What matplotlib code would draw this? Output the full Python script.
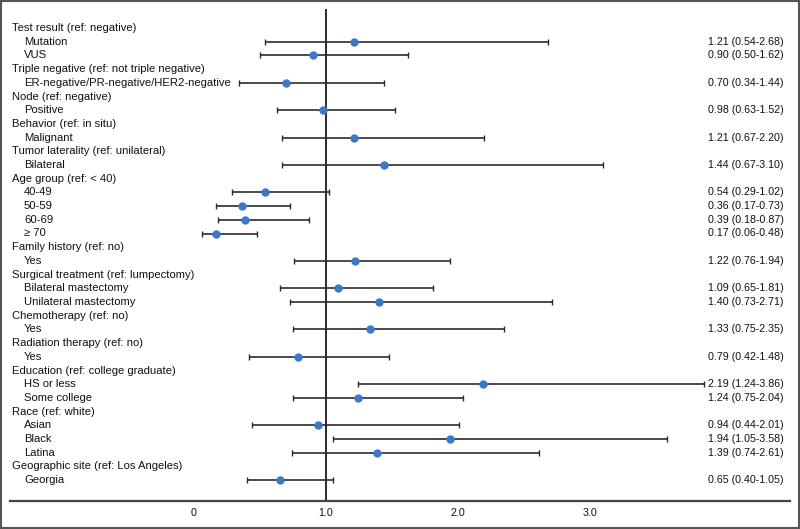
import matplotlib.pyplot as plt
from matplotlib.patches import Rectangle

# Rows from top to bottom: (label, is_header)
labels = [
    "Test result (ref: negative)", "Mutation", "VUS",
    "Triple negative (ref: not triple negative)", "ER-negative/PR-negative/HER2-negative",
    "Node (ref: negative)", "Positive",
    "Behavior (ref: in situ)", "Malignant",
    "Tumor laterality (ref: unilateral)", "Bilateral",
    "Age group (ref: < 40)", "40-49", "50-59", "60-69", "\u2265 70",
    "Family history (ref: no)", "Yes",
    "Surgical treatment (ref: lumpectomy)", "Bilateral mastectomy", "Unilateral mastectomy",
    "Chemotherapy (ref: no)", "Yes",
    "Radiation therapy (ref: no)", "Yes",
    "Education (ref: college graduate)", "HS or less", "Some college",
    "Race (ref: white)", "Asian", "Black", "Latina",
    "Geographic site (ref: Los Angeles)", "Georgia",
]
is_header = [
    1, 0, 0, 1, 0, 1, 0, 1, 0, 1, 0, 1, 0, 0, 0, 0, 1, 0,
    1, 0, 0, 1, 0, 1, 0, 1, 0, 0, 1, 0, 0, 0, 1, 0,
]

# Odds ratios and 95% CI (None for header rows)
odds = [None, 1.21, 0.90, None, 0.70, None, 0.98, None, 1.21, None, 1.44,
        None, 0.54, 0.36, 0.39, 0.17, None, 1.22, None, 1.09, 1.40,
        None, 1.33, None, 0.79, None, 2.19, 1.24, None, 0.94, 1.94, 1.39,
        None, 0.65]
lower = [None, 0.54, 0.50, None, 0.34, None, 0.63, None, 0.67, None, 0.67,
         None, 0.29, 0.17, 0.18, 0.06, None, 0.76, None, 0.65, 0.73,
         None, 0.75, None, 0.42, None, 1.24, 0.75, None, 0.44, 1.05, 0.74,
         None, 0.40]
upper = [None, 2.68, 1.62, None, 1.44, None, 1.52, None, 2.20, None, 3.10,
         None, 1.02, 0.73, 0.87, 0.48, None, 1.94, None, 1.81, 2.71,
         None, 2.35, None, 1.48, None, 3.86, 2.04, None, 2.01, 3.58, 2.61,
         None, 1.05]

tick_vals = [0, 1.0, 2.0, 3.0]
tick_labels = ["0", "1.0", "2.0", "3.0"]

plt.rcParams['font.family'] = ['Liberation Sans', 'DejaVu Sans']

fig = plt.figure(figsize=(8, 5.29), dpi=100)
ax = fig.add_axes([0, 0, 1, 1])
ax.set_axis_off()

# 132 px per unit, x=0 at 194 px; rows 13.7 px apart starting at 28 px
ax.set_xlim(-194 / 132, (800 - 194) / 132)
row_h = 13.7
ax.set_ylim((529 - 28) / row_h, -28 / row_h)

line_col = '#2b2b2b'
dot_col = '#3b78c8'
text_col = '#111111'
fs = 8.1
fs_right = 7.7

for i, lab in enumerate(labels):
    xpos = 12 / 800 if is_header[i] else 24 / 800
    ax.text(xpos, i, lab, transform=ax.get_yaxis_transform(), fontsize=fs,
            va='center', ha='left', color=text_col)
    if odds[i] is None:
        continue
    ax.errorbar(odds[i], i, xerr=[[odds[i] - lower[i]], [upper[i] - odds[i]]],
                fmt='o', color=dot_col, ecolor=line_col, elinewidth=1.2,
                capsize=2.5, capthick=1.0, markersize=5, zorder=3)
    ax.text(708 / 800, i, f"{odds[i]:.2f} ({lower[i]:.2f}-{upper[i]:.2f})",
            transform=ax.get_yaxis_transform(), fontsize=fs_right, va='center',
            ha='left', color=text_col)

# reference line at 1 and bottom axis line
y_axis = (501 - 28) / row_h
ax.plot([1, 1], [(10 - 28) / row_h, y_axis], color=line_col, lw=1.4, zorder=2)
ax.plot([10 / 800, 790 / 800], [y_axis, y_axis], color='#444444', lw=1.6,
        transform=ax.get_yaxis_transform())
for v, t in zip(tick_vals, tick_labels):
    ax.text(v, (513 - 28) / row_h, t, fontsize=fs_right, ha='center', va='center',
            color=text_col)

# frame around the image
fig.patches.append(Rectangle((0.001, 0.0015), 0.998, 0.997, transform=fig.transFigure,
                             fill=False, edgecolor='#555555', lw=1.5))

fig.savefig("out.png", dpi=100)
